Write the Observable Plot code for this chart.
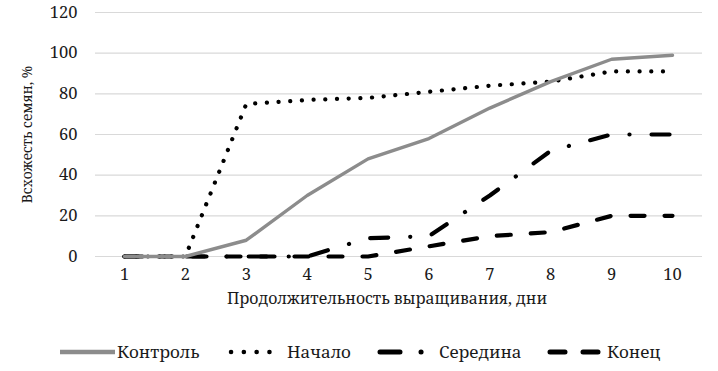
<!DOCTYPE html>
<html><head><meta charset="utf-8">
<script src="https://cdn.jsdelivr.net/npm/d3@7"></script>
<script src="https://cdn.jsdelivr.net/npm/@observablehq/plot@0.6"></script>
<style>
body{margin:0;background:#fff;font-family:'Noto Serif','Times New Roman','DejaVu Serif',serif;}
#wrap{position:relative;width:718px;height:371px;}
#legend{position:absolute;left:0;top:330px;}
</style></head>
<body><div id="wrap"><div id="chart"></div><svg id="legend" width="718" height="41"></svg></div>
<script>
const days = [1,2,3,4,5,6,7,8,9,10];
const control = [0,0,8,30,48,58,73,86,97,99];
const start = [0,0,75,77,78,81,84,86,91,91];
const middle = [0,0,0,0,9,10,30,52,60,60];
const end = [0,0,0,0,0,5,10,12,20,20];
const yTicks = [0,20,40,60,80,100,120];
const xLabel = "Продолжительность выращивания, дни";
const yLabel = "Всхожесть семян, %";
const FONT = "'Noto Serif','Times New Roman','DejaVu Serif',serif";

const styles = {
  "Контроль": {stroke:"#8c8c8c", strokeWidth:3.4, strokeDasharray:null, strokeLinecap:"round"},
  "Начало": {stroke:"#000", strokeWidth:4.2, strokeDasharray:"0.1 11.6", strokeLinecap:"round"},
  "Середина": {stroke:"#000", strokeWidth:4.2, strokeDasharray:"18 22 0.1 22", strokeLinecap:"round"},
  "Конец": {stroke:"#000", strokeWidth:4.2, strokeDasharray:"14 20", strokeLinecap:"round"}
};
const values = {"Контроль":control,"Начало":start,"Середина":middle,"Конец":end};
const rows = name => days.map((d,i)=>({day:d, v:values[name][i]}));

const lineMark = name => {
  const s = styles[name];
  const o = {x:"day", y:"v", stroke:s.stroke, strokeWidth:s.strokeWidth, strokeLinecap:s.strokeLinecap, strokeLinejoin:"round"};
  if (s.strokeDasharray) o.strokeDasharray = s.strokeDasharray;
  return Plot.line(rows(name), o);
};

const chart = Plot.plot({
  width:718, height:330,
  marginLeft:95, marginRight:16, marginTop:12, marginBottom:74,
  style:{fontFamily:FONT, fontSize:"16px", color:"#1a1a1a", background:"#fff"},
  x:{type:"point", domain:days, range:[124,672], padding:0, round:false},
  y:{domain:[0,120]},
  marks:[
    Plot.gridY(yTicks, {stroke:"#d9d9d9", strokeOpacity:1, strokeWidth:1.2}),
    Plot.axisY(yTicks, {tickSize:0, tickPadding:18, label:null, fontSize:16.5}),
    Plot.axisX(days, {tickSize:0, tickPadding:12, label:null, fontSize:16.5}),
    Plot.text([xLabel], {frameAnchor:"bottom", dx:-12, dy:47, text:d=>d, fontSize:15.8}),
    Plot.text([yLabel], {frameAnchor:"left", textAnchor:"middle", dx:-68, rotate:-90, text:d=>d, fontSize:13.8}),
    lineMark("Конец"),
    lineMark("Середина"),
    lineMark("Начало"),
    lineMark("Контроль")
  ]
});
document.getElementById("chart").appendChild(chart);

// legend
const lg = d3.select("#legend");
const ly = 22;
const items = [
  {name:"Контроль", x1:60, x2:115, tx:117, w:4.5, cap:"butt", dash:null},
  {name:"Начало", x1:231, x2:282, tx:287, w:4.5, cap:"round", dash:"0.1 12.7"},
  {name:"Середина", x1:380, x2:422, tx:439, w:5, cap:"round", dash:"20 21 0.1 30"},
  {name:"Конец", x1:550, x2:598, tx:607, w:5, cap:"round", dash:"15 18"}
];
items.forEach(it=>{
  const s = styles[it.name];
  lg.append("line").attr("x1",it.x1).attr("x2",it.x2).attr("y1",ly).attr("y2",ly)
    .attr("stroke",s.stroke).attr("stroke-width",it.w)
    .attr("stroke-linecap", it.cap)
    .attr("stroke-dasharray", it.dash);
  lg.append("text").attr("x",it.tx).attr("y",ly).attr("dy","0.35em")
    .attr("font-size",17).attr("fill","#1a1a1a").attr("font-family",FONT).text(it.name);
});
</script></body></html>
